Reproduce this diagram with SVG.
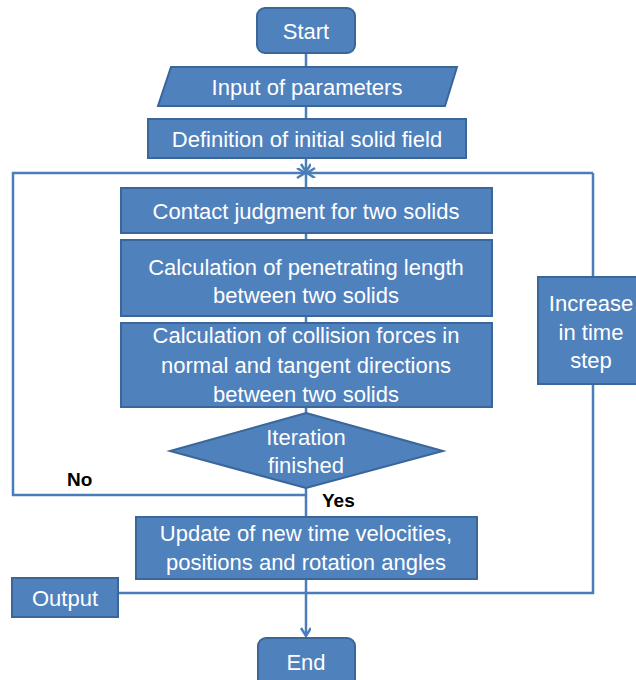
<svg xmlns="http://www.w3.org/2000/svg" width="636" height="680" viewBox="0 0 636 680">
<defs>
<style>
.box{fill:#4F81BD;stroke:#3A669A;stroke-width:2}
.t{font-family:"Liberation Sans",Arial,sans-serif;font-size:22px;fill:#fff;text-anchor:middle}
.lbl{font-family:"Liberation Sans",Arial,sans-serif;font-size:19px;font-weight:bold;fill:#000}
.ln{fill:none;stroke:#4A7EBB;stroke-width:2.5}
</style>
<marker id="ah" markerWidth="12" markerHeight="12" refX="9" refY="5" orient="auto" markerUnits="userSpaceOnUse">
<path d="M1,0 L9,5 L1,10" fill="none" stroke="#4A7EBB" stroke-width="2.5"/>
</marker>
</defs>
<rect width="636" height="680" fill="#fff"/>
<g id="connectors">
<path class="ln" d="M306,53 V67 M306,106 V119"/>
<path class="ln" d="M306,158 V172" marker-end="url(#ah)"/>
<path class="ln" d="M306,172 V188 M306,233 V240 M306,316 V323 M306,407 V413 M306,488 V517"/>
<path class="ln" d="M306,495 H13 V173 H305" marker-end="url(#ah)"/>
<path class="ln" d="M593,173 H307" marker-end="url(#ah)"/>
<path class="ln" d="M593,173 V593 H118"/>
<path class="ln" d="M306,579 V636" marker-end="url(#ah)"/>
</g>
<g id="start"><rect class="box" x="257" y="8" width="98" height="45" rx="8"/><text class="t" x="306" y="39">Start</text></g>
<g id="input"><polygon class="box" points="171,67 457,67 445,106 158,106"/><text class="t" x="307" y="95">Input of parameters</text></g>
<g id="definition"><rect class="box" x="148" y="119" width="318" height="39"/><text class="t" x="307" y="147">Definition of initial solid field</text></g>
<g id="contact"><rect class="box" x="121" y="188" width="371" height="45"/><text class="t" x="306" y="219">Contact judgment for two solids</text></g>
<g id="penetrating"><rect class="box" x="121" y="240" width="371" height="76"/><text class="t" x="306" y="275">Calculation of penetrating length</text><text class="t" x="306" y="303">between two solids</text></g>
<g id="collision"><rect class="box" x="121" y="323" width="371" height="84"/><text class="t" x="306" y="343">Calculation of collision forces in</text><text class="t" x="306" y="373">normal and tangent directions</text><text class="t" x="306" y="402">between two solids</text></g>
<g id="iteration"><polygon class="box" points="306,413 443,451 306,488 170,451"/><text class="t" x="306" y="445">Iteration</text><text class="t" x="306" y="473">finished</text></g>
<g id="update"><rect class="box" x="136" y="517" width="341" height="62"/><text class="t" x="306" y="541">Update of new time velocities,</text><text class="t" x="306" y="570">positions and rotation angles</text></g>
<g id="output"><rect class="box" x="12" y="578" width="106" height="39"/><text class="t" x="65" y="606">Output</text></g>
<g id="end"><rect class="box" x="258" y="638" width="97" height="50" rx="8"/><text class="t" x="306" y="670">End</text></g>
<g id="increase"><rect class="box" x="538" y="277" width="104" height="107"/><text class="t" x="591" y="311">Increase</text><text class="t" x="591" y="340">in time</text><text class="t" x="591" y="368">step</text></g>
<g id="labels"><text class="lbl" x="67" y="486">No</text><text class="lbl" x="322" y="507">Yes</text></g>
</svg>
